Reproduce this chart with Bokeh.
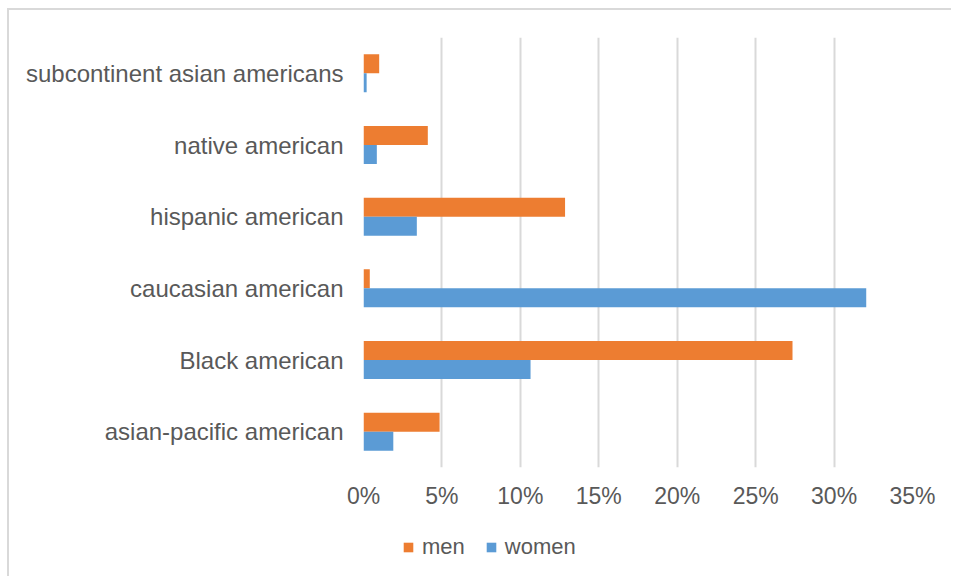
from bokeh.plotting import figure
from bokeh.layouts import column
from bokeh.models import (FactorRange, Range1d, FixedTicker, NumeralTickFormatter,
                          ColumnDataSource, Legend, LegendItem)
from bokeh.transform import dodge
from bokeh.embed import file_html
from bokeh.resources import INLINE

# Groups, listed from the bottom of the chart to the top
groups = ["asian-pacific american", "Black american", "caucasian american",
          "hispanic american", "native american", "subcontinent asian americans"]
# Share of each group, in percent
men = [4.85, 27.35, 0.4, 12.85, 4.1, 1.0]
women = [1.9, 10.65, 32.05, 3.4, 0.85, 0.2]
tick_values = [0, 5, 10, 15, 20, 25, 30, 35]
series_labels = ["men", "women"]

FONT = "Liberation Sans"
TEXT = "#595959"
GRID = "#d9d9d9"
MEN_COLOR = "#ED7D31"
WOMEN_COLOR = "#5B9BD5"

src = ColumnDataSource(dict(
    group=groups,
    men=[v / 100 for v in men],
    women=[v / 100 for v in women],
))

p = figure(
    width=942, height=507,
    y_range=FactorRange(factors=groups, range_padding=0),
    x_range=Range1d(0, 0.35),
    output_backend="svg", toolbar_location=None,
    min_border_left=354, min_border_right=39,
    min_border_top=27, min_border_bottom=50,
)

bar_h = 0.265
p.hbar(y=dodge("group", bar_h / 2, range=p.y_range), right="men", left=0,
       height=bar_h, fill_color=MEN_COLOR, line_color=None, source=src)
p.hbar(y=dodge("group", -bar_h / 2, range=p.y_range), right="women", left=0,
       height=bar_h, fill_color=WOMEN_COLOR, line_color=None, source=src)

p.outline_line_color = None
p.ygrid.grid_line_color = None
p.xgrid.grid_line_color = GRID
p.xgrid.grid_line_width = 2

p.xaxis.ticker = FixedTicker(ticks=[t / 100 for t in tick_values])
p.xaxis.formatter = NumeralTickFormatter(format="0%")
for ax in (p.xaxis[0], p.yaxis[0]):
    ax.axis_line_color = None
    ax.major_tick_line_color = None
    ax.minor_tick_line_color = None
    ax.major_label_text_font = FONT
    ax.major_label_text_color = TEXT
p.xaxis.major_label_text_font_size = "23px"
p.yaxis.major_label_text_font_size = "24px"
p.xaxis.major_label_standoff = 9
p.yaxis.major_label_standoff = 14

# Legend strip underneath the bars; its frame lines up with the main frame
leg = figure(
    width=942, height=59,
    x_range=Range1d(0, 1), y_range=Range1d(0, 1),
    output_backend="svg", toolbar_location=None,
    x_axis_location=None, y_axis_location=None,
    min_border_left=0, min_border_right=0, min_border_top=0, min_border_bottom=0,
)
leg.outline_line_color = None
leg.grid.grid_line_color = None
# hidden copies of the two series, used only for the legend keys
key_men = leg.hbar(y=-1, right="men", left=0, height=0.1, source=src,
                   fill_color=MEN_COLOR, line_color=None, visible=False)
key_women = leg.hbar(y=-1, right="women", left=0, height=0.1, source=src,
                     fill_color=WOMEN_COLOR, line_color=None, visible=False)

legend = Legend(
    items=[LegendItem(label=series_labels[0], renderers=[key_men]),
           LegendItem(label=series_labels[1], renderers=[key_women])],
    orientation="horizontal",
    location=(39, 16),
    padding=0, margin=0, spacing=20,
    glyph_width=12, glyph_height=12, label_standoff=8,
    label_height=20,
    label_text_font=FONT, label_text_font_size="22px", label_text_color=TEXT,
    border_line_color=None, background_fill_alpha=0,
    inactive_fill_alpha=0,
)
leg.add_layout(legend, "center")

chart = column(p, leg, spacing=0, styles={
    "margin-left": "7px", "margin-top": "8px",
    "border-top": f"2px solid {GRID}", "border-left": f"2px solid {GRID}",
})

open("out.html", "w").write(file_html(chart, INLINE))
